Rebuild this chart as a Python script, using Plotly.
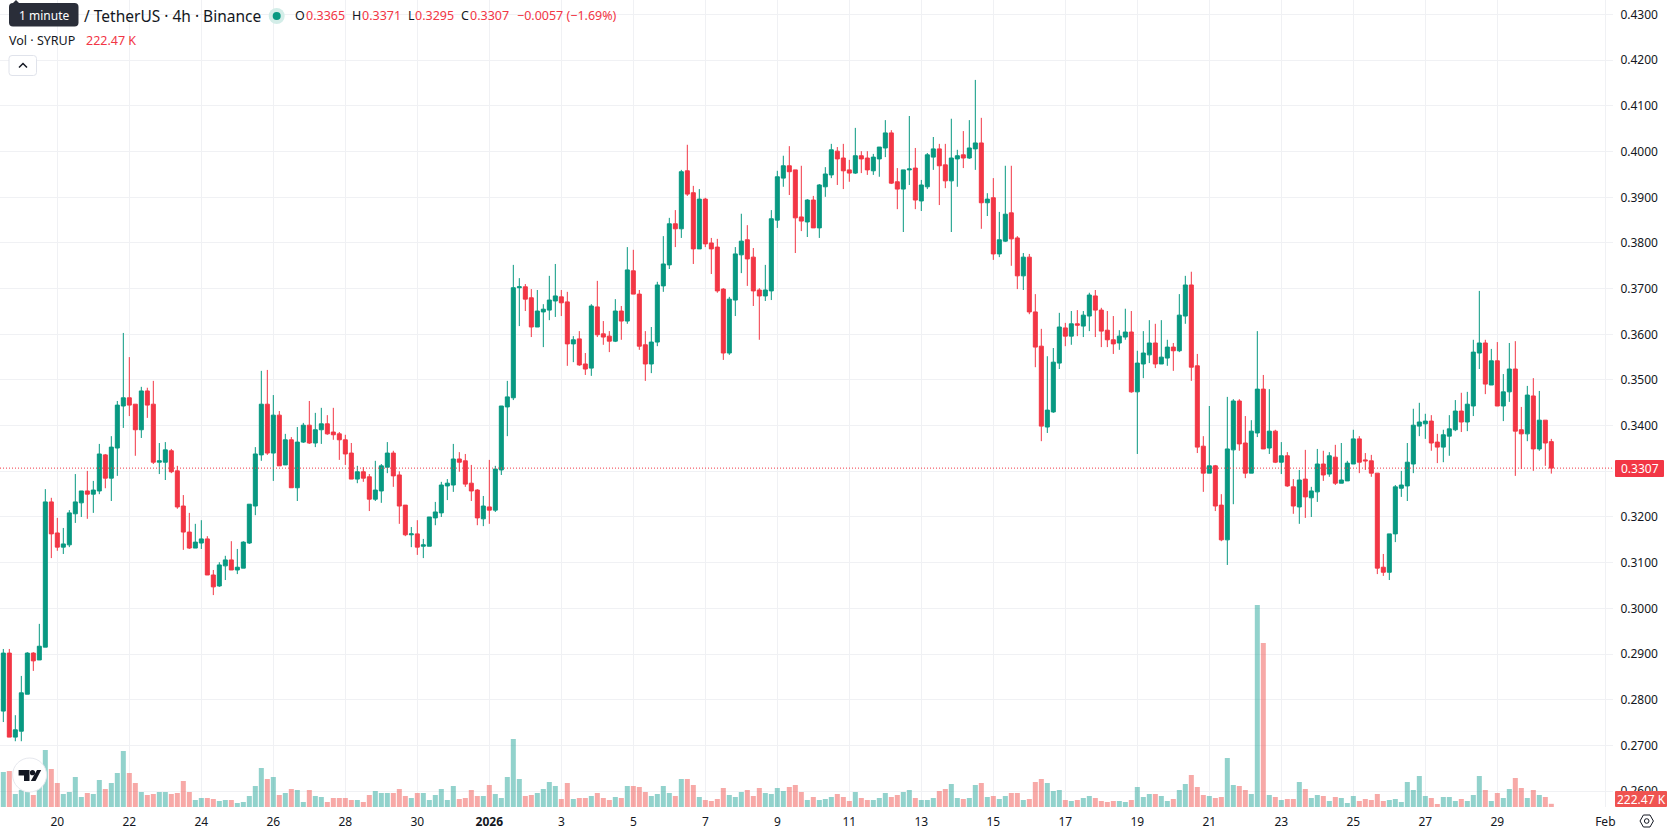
import pandas as pd
import plotly.graph_objects as go

W, H = 1678, 835
PLOT_RIGHT, PLOT_BOTTOM = 1613, 807
FONT = "Noto Sans"
INK = "#131722"
UP, DOWN = "#089981", "#F23645"
VOL_UP, VOL_DOWN = "rgba(38,166,154,0.5)", "rgba(239,83,80,0.5)"
GRID = "#f0f1f4"

opens = [
    .2775,.2902,.2718,.2731,.2812,.2902,.2887,.2915,.3233,.3165,
    .3134,.3139,.3207,.3231,.3257,.3250,.3257,.3336,.3285,.3351,
    .3443,.3461,.3447,.3391,.3476,.3447,.3320,.3320,.3345,.3301,
    .3224,.3167,.3132,.3143,.3152,.3073,.3049,.3093,.3106,.3084,
    .3088,.3143,.3224,.3336,.3447,.3340,.3423,.3314,.3369,.3264,
    .3364,.3401,.3362,.3391,.3404,.3386,.3382,.3369,.3340,.3283,
    .3299,.3288,.3239,.3257,.3309,.3340,.3292,.3226,.3161,.3163,
    .3136,.3136,.3198,.3209,.3268,.3270,.3327,.3323,.3274,.3259,
    .3196,.3222,.3215,.3303,.3441,.3461,.3702,.3704,.3680,.3616,
    .3649,.3653,.3673,.3682,.3671,.3579,.3590,.3535,.3526,.3660,
    .3601,.3596,.3585,.3651,.3629,.3739,.3688,.3577,.3535,.3583,
    .3706,.3752,.3842,.3831,.3958,.3910,.3787,.3896,.3800,.3791,
    .3699,.3559,.3675,.3774,.3807,.3769,.3697,.3684,.3695,.3850,
    .3942,.3969,.3960,.3857,.3846,.3894,.3833,.3923,.3949,.4001,
    .3986,.3960,.3953,.3991,.3986,.3958,.3984,.4008,.4041,.3934,
    .3918,.3960,.3964,.3892,.3923,.3988,.4006,.3971,.3936,.3984,
    .3993,.3986,.4006,.4019,.3888,.3899,.3776,.3804,.3866,.3811,
    .3728,.3769,.3649,.3574,.3397,.3430,.3537,.3614,.3596,.3623,
    .3618,.3640,.3684,.3653,.3609,.3588,.3581,.3594,.3605,.3474,
    .3535,.3555,.3581,.3535,.3548,.3572,.3564,.3640,.3708,.3531,
    .3355,.3296,.3312,.3226,.3150,.3347,.3454,.3362,.3296,.3384,
    .3480,.3351,.3388,.3320,.3334,.3266,.3222,.3283,.3242,.3255,
    .3316,.3294,.3331,.3274,.3279,.3316,.3371,.3325,.3323,.3296,
    .3090,.3079,.3163,.3263,.3268,.3316,.3399,.3404,.3410,.3364,
    .3353,.3377,.3391,.3432,.3408,.3443,.3559,.3581,.3489,.3542,
    .3443,.3474,.3524,.3391,.3382,.3465,.3349,.3412,.3365,
]
highs = [
    .2911,.2911,.2766,.2852,.2904,.2904,.2966,.3261,.3242,.3198,
    .3176,.3215,.3294,.3257,.3301,.3279,.3360,.3338,.3377,.3454,
    .3603,.3550,.3447,.3485,.3483,.3498,.3362,.3364,.3349,.3312,
    .3248,.3209,.3185,.3193,.3158,.3084,.3101,.3115,.3147,.3130,
    .3147,.3228,.3353,.3520,.3522,.3467,.3432,.3382,.3375,.3397,
    .3406,.3454,.3428,.3439,.3423,.3439,.3386,.3380,.3362,.3312,
    .3309,.3294,.3323,.3316,.3364,.3345,.3300,.3226,.3178,.3193,
    .3152,.3200,.3233,.3277,.3283,.3360,.3342,.3338,.3314,.3261,
    .3246,.3325,.3312,.3443,.3498,.3752,.3723,.3710,.3699,.3697,
    .3666,.3728,.3754,.3697,.3693,.3596,.3607,.3559,.3666,.3717,
    .3629,.3607,.3677,.3662,.3791,.3785,.3697,.3607,.3616,.3715,
    .3815,.3855,.3872,.3960,.4015,.3925,.3918,.3899,.3811,.3809,
    .3701,.3682,.3791,.3864,.3839,.3789,.3701,.3752,.3872,.3958,
    .3991,.4012,.3960,.3969,.3896,.3903,.3929,.3966,.4017,.4010,
    .4017,.3982,.4052,.4001,.4001,.3995,.4010,.4069,.4047,.3964,
    .3960,.4078,.4008,.3938,.3997,.4032,.4017,.4017,.4072,.4004,
    .4045,.4069,.4157,.4074,.3909,.3942,.3868,.3969,.3969,.3815,
    .3778,.3776,.3688,.3612,.3552,.3570,.3647,.3625,.3651,.3653,
    .3651,.3691,.3697,.3658,.3651,.3640,.3609,.3656,.3651,.3564,
    .3607,.3631,.3623,.3631,.3588,.3581,.3688,.3728,.3737,.3557,
    .3377,.3443,.3314,.3250,.3463,.3458,.3458,.3421,.3412,.3607,
    .3511,.3480,.3391,.3364,.3342,.3283,.3303,.3347,.3266,.3349,
    .3345,.3342,.3358,.3362,.3323,.3391,.3377,.3340,.3336,.3296,
    .3119,.3163,.3270,.3301,.3362,.3437,.3450,.3426,.3423,.3382,
    .3391,.3423,.3456,.3472,.3474,.3588,.3695,.3588,.3568,.3583,
    .3513,.3581,.3585,.3441,.3487,.3504,.3476,.3412,.3371,
]
lows = [
    .2751,.2718,.2709,.2709,.2812,.2863,.2887,.2915,.3110,.3126,
    .3119,.3134,.3187,.3200,.3196,.3209,.3250,.3263,.3235,.3290,
    .3395,.3421,.3334,.3373,.3417,.3316,.3294,.3281,.3296,.3218,
    .3128,.3130,.3132,.3130,.3073,.3029,.3047,.3062,.3084,.3075,
    .3088,.3141,.3204,.3323,.3336,.3279,.3312,.3314,.3264,.3235,
    .3362,.3360,.3353,.3360,.3380,.3369,.3325,.3314,.3283,.3274,
    .3277,.3213,.3235,.3231,.3296,.3266,.3185,.3158,.3134,.3117,
    .3110,.3136,.3182,.3200,.3237,.3255,.3299,.3266,.3235,.3182,
    .3180,.3185,.3211,.3292,.3377,.3456,.3618,.3651,.3594,.3616,
    .3572,.3631,.3638,.3640,.3531,.3539,.3531,.3511,.3509,.3594,
    .3577,.3561,.3583,.3588,.3623,.3688,.3566,.3498,.3515,.3574,
    .3693,.3743,.3791,.3811,.3903,.3754,.3787,.3791,.3732,.3691,
    .3544,.3555,.3640,.3734,.3706,.3662,.3588,.3673,.3675,.3833,
    .3923,.3905,.3778,.3826,.3813,.3833,.3811,.3901,.3942,.3927,
    .3918,.3934,.3951,.3953,.3949,.3949,.3945,.3988,.3929,.3874,
    .3824,.3927,.3874,.3870,.3918,.3960,.3883,.3920,.3824,.3923,
    .3964,.3984,.3960,.3831,.3859,.3763,.3769,.3802,.3750,.3699,
    .3697,.3644,.3528,.3366,.3384,.3428,.3524,.3574,.3577,.3596,
    .3594,.3607,.3594,.3572,.3572,.3557,.3566,.3588,.3472,.3338,
    .3504,.3537,.3526,.3535,.3531,.3520,.3561,.3623,.3498,.3340,
    .3255,.3296,.3213,.3147,.3095,.3228,.3345,.3285,.3296,.3375,
    .3349,.3338,.3318,.3294,.3266,.3207,.3185,.3198,.3200,.3233,
    .3279,.3288,.3270,.3274,.3279,.3316,.3296,.3303,.3288,.3075,
    .3071,.3062,.3145,.3244,.3235,.3296,.3377,.3371,.3345,.3318,
    .3320,.3334,.3388,.3386,.3388,.3421,.3524,.3469,.3489,.3443,
    .3410,.3452,.3290,.3305,.3366,.3301,.3345,.3312,.3295,
]
closes = [
    .2902,.2718,.2734,.2815,.2902,.2885,.2917,.3233,.3163,.3134,
    .3141,.3209,.3233,.3257,.3250,.3259,.3338,.3285,.3353,.3445,
    .3461,.3445,.3391,.3476,.3445,.3320,.3323,.3347,.3299,.3222,
    .3167,.3132,.3145,.3152,.3073,.3047,.3095,.3106,.3084,.3090,
    .3145,.3228,.3338,.3447,.3340,.3423,.3312,.3369,.3264,.3364,
    .3401,.3362,.3391,.3404,.3382,.3380,.3369,.3338,.3283,.3299,
    .3285,.3239,.3259,.3312,.3340,.3290,.3224,.3161,.3163,.3134,
    .3139,.3200,.3211,.3270,.3274,.3327,.3320,.3272,.3257,.3198,
    .3224,.3215,.3305,.3443,.3463,.3702,.3704,.3677,.3616,.3651,
    .3655,.3675,.3684,.3669,.3579,.3588,.3533,.3524,.3662,.3599,
    .3594,.3585,.3651,.3629,.3741,.3688,.3574,.3535,.3583,.3708,
    .3754,.3842,.3831,.3956,.3907,.3787,.3896,.3798,.3787,.3695,
    .3559,.3677,.3776,.3804,.3765,.3695,.3684,.3697,.3853,.3945,
    .3969,.3956,.3855,.3848,.3894,.3833,.3927,.3951,.4004,.3984,
    .3958,.3953,.3991,.3984,.3960,.3988,.4010,.4041,.3931,.3918,
    .3960,.3962,.3894,.3927,.3993,.4006,.3969,.3936,.3986,.3991,
    .3986,.4008,.4019,.3888,.3896,.3776,.3807,.3863,.3809,.3728,
    .3769,.3649,.3572,.3399,.3434,.3539,.3616,.3596,.3623,.3620,
    .3642,.3686,.3653,.3607,.3588,.3579,.3596,.3605,.3474,.3537,
    .3559,.3581,.3535,.3550,.3572,.3564,.3642,.3708,.3528,.3353,
    .3296,.3312,.3224,.3150,.3349,.3454,.3360,.3296,.3388,.3480,
    .3349,.3388,.3320,.3334,.3268,.3224,.3281,.3244,.3257,.3316,
    .3292,.3334,.3274,.3281,.3318,.3371,.3320,.3323,.3296,.3088,
    .3079,.3163,.3266,.3270,.3320,.3401,.3408,.3410,.3362,.3353,
    .3380,.3393,.3432,.3408,.3447,.3561,.3581,.3491,.3542,.3443,
    .3474,.3524,.3388,.3382,.3467,.3349,.3412,.3362,.3307,
]
# 4h volume in thousands of SYRUP
volumes = [
    2450,2520,910,1200,1050,840,1470,3990,2660,1680,
    910,1050,2100,700,980,910,1890,1260,1680,2380,
    3920,2380,1680,1050,840,910,1050,1050,910,980,
    1820,1050,490,630,630,560,420,490,490,280,
    350,770,1470,2730,1960,2100,840,980,1260,1190,
    350,1190,770,700,350,630,630,630,490,490,
    350,840,1120,980,980,980,1260,770,630,980,
    980,490,840,1260,490,1470,560,630,1190,770,
    770,1540,910,630,2100,4760,1960,770,840,980,
    1260,1750,1470,560,1680,560,630,630,770,980,
    630,490,700,630,1470,1470,1400,1050,770,910,
    1470,980,770,1960,1960,1540,700,490,420,560,
    1330,840,700,1050,1190,770,1330,980,910,1330,
    1120,1400,1540,1050,490,700,490,560,700,910,
    700,420,1050,630,490,490,630,980,700,840,
    1050,1190,630,490,490,630,1120,1260,1610,630,
    560,630,1540,1680,700,770,560,770,980,980,
    490,560,1750,1960,1680,1120,1190,490,420,490,
    630,770,630,420,350,420,420,350,490,1400,
    700,910,910,770,420,560,1190,1610,2240,1400,
    840,770,630,700,3430,1540,1470,1190,910,14140,
    11480,840,700,490,560,560,1750,1260,630,840,
    770,420,700,630,280,770,420,560,490,910,
    420,490,560,350,1750,1190,2170,770,630,210,
    700,700,420,560,420,840,2170,1190,420,980,
    630,1260,2030,1330,630,1190,840,700,222.47,
]
dates = pd.date_range("2025-12-18 12:00", periods=len(opens), freq="4h")

tick_dates = (
    [f"2025-12-{d}" for d in (20, 22, 24, 26, 28, 30)]
    + ["2026-01-01"]
    + [f"2026-01-{d:02d}" for d in range(3, 30, 2)]
    + ["2026-02-01"]
)
tick_labels = (
    ["20", "22", "24", "26", "28", "30", "<b>2026</b>"]
    + [str(d) for d in range(3, 30, 2)]
    + ["Feb"]
)

vol_colors = [VOL_UP if c >= o else VOL_DOWN for o, c in zip(opens, closes)]

fig = go.Figure()
fig.add_trace(go.Bar(
    x=dates, y=volumes, yaxis="y2", marker=dict(color=vol_colors, line_width=0),
    hoverinfo="skip", showlegend=False,
))
fig.add_trace(go.Candlestick(
    x=dates, open=opens, high=highs, low=lows, close=closes,
    increasing=dict(line=dict(color=UP, width=1), fillcolor=UP),
    decreasing=dict(line=dict(color=DOWN, width=1), fillcolor=DOWN),
    whiskerwidth=0, showlegend=False,
))


def px(x):
    return x / W


def py(y):
    return 1 - y / H


def label(x, y, text, color=INK, size=13, anchor="left", **kw):
    fig.add_annotation(
        x=px(x), y=py(y), xref="paper", yref="paper", text=text, showarrow=False,
        xanchor=anchor, yanchor="middle", align="left", borderpad=0, borderwidth=0,
        font=dict(family=FONT, size=size, color=color), **kw,
    )


def box(x0, y0, x1, y1, fill, line="rgba(0,0,0,0)", r=0):
    path = (
        f"M{px(x0 + r)},{py(y0)} L{px(x1 - r)},{py(y0)} Q{px(x1)},{py(y0)} {px(x1)},{py(y0 + r)} "
        f"L{px(x1)},{py(y1 - r)} Q{px(x1)},{py(y1)} {px(x1 - r)},{py(y1)} "
        f"L{px(x0 + r)},{py(y1)} Q{px(x0)},{py(y1)} {px(x0)},{py(y1 - r)} "
        f"L{px(x0)},{py(y0 + r)} Q{px(x0)},{py(y0)} {px(x0 + r)},{py(y0)} Z"
    )
    fig.add_shape(type="path", path=path, xref="paper", yref="paper",
                  fillcolor=fill, line=dict(color=line, width=1), layer="above")


def polygon(points, fill=None, stroke=None, width=1):
    path = "M" + " L".join(f"{px(x)},{py(y)}" for x, y in points)
    if fill:
        path += " Z"
    fig.add_shape(type="path", path=path, xref="paper", yref="paper",
                  fillcolor=fill or "rgba(0,0,0,0)",
                  line=dict(color=stroke or "rgba(0,0,0,0)", width=width), layer="above")


def disc(cx, cy, r, fill, line="rgba(0,0,0,0)"):
    fig.add_shape(type="circle", x0=px(cx - r), x1=px(cx + r), y0=py(cy + r), y1=py(cy - r),
                  xref="paper", yref="paper", fillcolor=fill,
                  line=dict(color=line, width=1), layer="above")


# Last-close marker line across the pane
fig.add_shape(type="line", xref="paper", yref="y", x0=0, x1=px(PLOT_RIGHT),
              y0=closes[-1], y1=closes[-1],
              line=dict(color=DOWN, width=1, dash="1px,2px"), layer="above")

# Price and volume tags on the scale
box(1615, 460, 1664, 477, DOWN, r=1)
label(1639.5, 468.5, f"{closes[-1]:.4f}", "#ffffff", 12, "center")
box(1615, 791, 1667, 807, "#ef5350", r=1)
label(1641, 799, f"{volumes[-1]:.2f} K", "#ffffff", 12, "center")

# Legend block
polygon([(13, 3), (16, 0), (19, 3)], fill="#2a2e39")
box(9, 3, 78.5, 26.5, "#2a2e39", r=4)
label(43.7, 15, "1 minute", "#ffffff", 12, "center")
label(83.5, 16, "/ TetherUS · 4h · Binance", INK, 15.5)
disc(276.7, 16, 8, "#d3ede8")
disc(276.7, 16, 4, UP)
for x, t in [(294.5, "O"), (351.5, "H"), (408, "L"), (461.5, "C")]:
    label(x, 16, t, INK, 12.5)
for x, t in [
    (305.5, f"{opens[-1]:.4f}"), (362, f"{highs[-1]:.4f}"),
    (415, f"{lows[-1]:.4f}"), (470, f"{closes[-1]:.4f}"),
    (517, "−0.0057 (−1.69%)"),
]:
    label(x, 16, t, DOWN, 12.5)
label(9, 40.5, "Vol · SYRUP", INK, 12.5)
label(85.5, 40.5, f"{volumes[-1]:.2f} K", DOWN, 12.5)
box(9, 55.5, 36.5, 75.5, "#ffffff", "#e0e3eb", r=3)
polygon([(19, 67.5), (23, 63.5), (27, 67.5)], stroke=INK, width=1.5)

# Logo badge
disc(29.6, 775, 17, "#ffffff", "#e6e8ee")
polygon([(18.6, 770), (29.5, 770), (29.5, 781), (24, 781), (24, 775.5), (18.6, 775.5)], fill="#131722")
disc(32.5, 772.7, 2.6, "#131722")
polygon([(37, 770), (41.2, 770), (35.5, 781), (30.8, 781)], fill="#131722")

# Settings glyph next to the time axis
polygon([(1640, 821), (1643.4, 815), (1650, 815), (1653.4, 821), (1650, 827), (1643.4, 827)],
        fill="#ffffff", stroke=INK, width=1)
disc(1646.7, 821, 2.3, "#ffffff", INK)

fig.update_layout(
    width=W, height=H, autosize=False,
    margin=dict(l=0, r=0, t=0, b=0, pad=0, autoexpand=False),
    paper_bgcolor="#ffffff", plot_bgcolor="#ffffff",
    font=dict(family=FONT, color=INK, size=12),
    bargap=1 / 6, boxgap=1 / 3, boxgroupgap=0, hovermode=False, dragmode=False,
    xaxis=dict(
        domain=[0, PLOT_RIGHT / W],
        type="date",
        range=["2025-12-18 09:47", "2026-02-01 05:07"],
        rangeslider=dict(visible=False),
        tickmode="array", tickvals=tick_dates, ticktext=tick_labels,
        tickangle=0,
        showgrid=True, gridcolor=GRID, gridwidth=1,
        showline=False, zeroline=False,
        ticks="outside", ticklen=4, tickcolor="rgba(0,0,0,0)",
        tickfont=dict(family=FONT, size=12, color=INK),
        anchor="y",
    ),
    yaxis=dict(
        domain=[1 - PLOT_BOTTOM / H, 1],
        range=[0.2565, 0.4332],
        side="right", tick0=0, dtick=0.01, tickformat=".4f",
        showgrid=True, gridcolor=GRID, gridwidth=1,
        showline=False, zeroline=False,
        ticks="outside", ticklen=4, tickcolor="rgba(0,0,0,0)",
        tickfont=dict(family=FONT, size=12, color=INK),
        anchor="x",
    ),
    yaxis2=dict(
        domain=[1 - PLOT_BOTTOM / H, 1],
        range=[0, 56490],
        overlaying="y", side="left", visible=False,
        showgrid=False, zeroline=False,
    ),
)

fig.write_html("out.html", config=dict(displayModeBar=False))
